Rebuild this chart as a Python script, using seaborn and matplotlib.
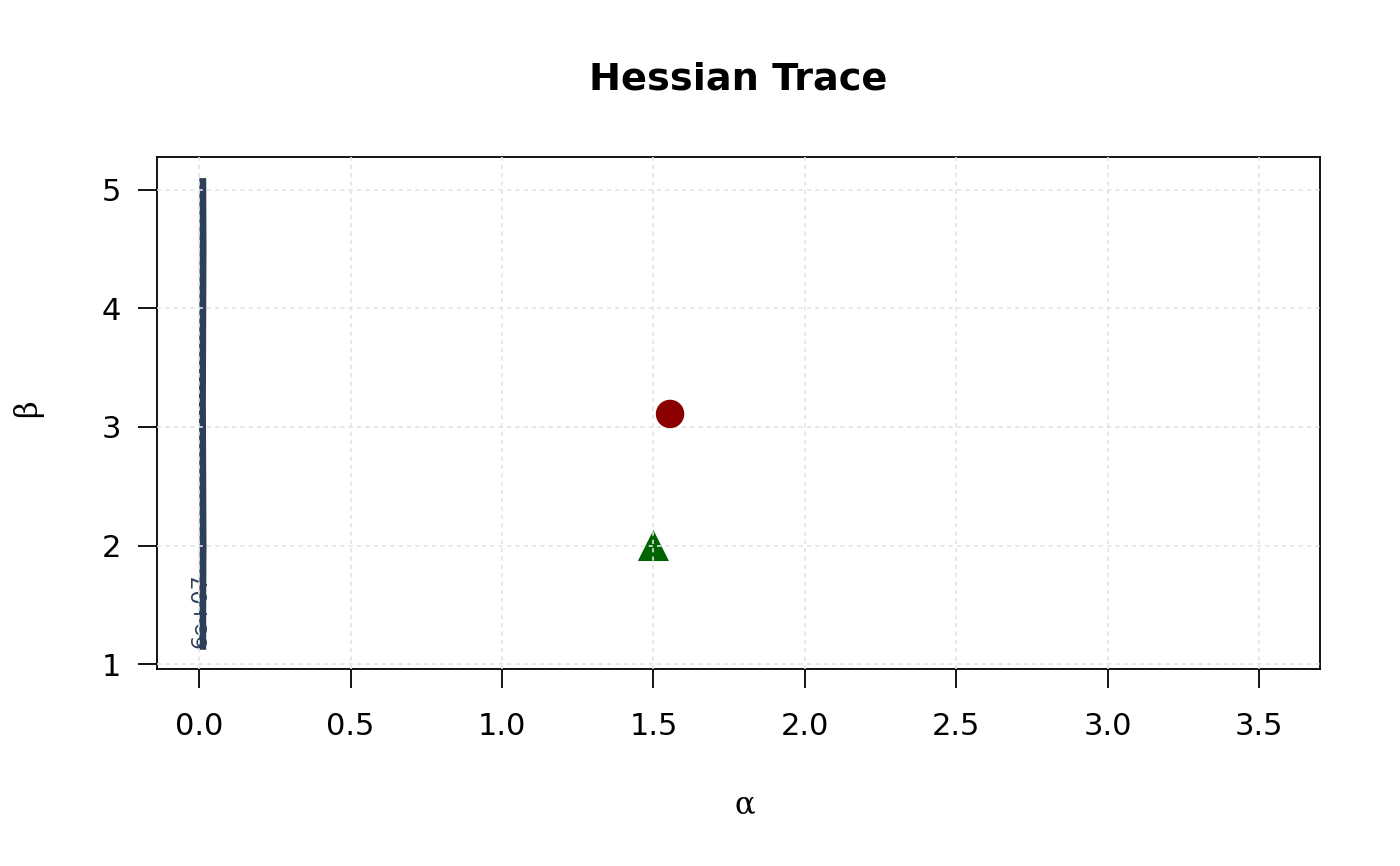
import matplotlib
matplotlib.use("Agg")
import matplotlib.pyplot as plt
import seaborn as sns
import pandas as pd

# ---- data ----
trace_alpha = [0.012, 0.012, 0.013, 0.012, 0.011, 0.012, 0.013, 0.012]
trace_beta = [1.12, 1.5, 2.0, 2.6, 3.2, 3.9, 4.5, 5.10]
final_point = (1.555, 3.11)
true_point = (1.50, 2.00)
trace_label = "6e+07"
label_pos = (0.003, 1.45)
x_ticks = [0.0, 0.5, 1.0, 1.5, 2.0, 2.5, 3.0, 3.5]
y_ticks = [1, 2, 3, 4, 5]

sns.set_style("white")
plt.rcParams['font.family'] = ['DejaVu Sans']

fig = plt.figure(figsize=(14, 8.66), dpi=100)
ax = fig.add_axes([157/1400, 1 - 669/866, (1320-157)/1400, (669-157)/866])

df = pd.DataFrame({"alpha": trace_alpha, "beta": trace_beta})
sns.lineplot(data=df, x="alpha", y="beta", sort=False, estimator=None,
             color="#2E4057", linewidth=5.0, ax=ax, zorder=3)
ax.lines[-1].set_solid_capstyle("butt")

sns.scatterplot(x=[true_point[0]], y=[true_point[1]], marker="^", s=500,
                color="#006400", edgecolor="none", ax=ax, zorder=2)
sns.scatterplot(x=[final_point[0]], y=[final_point[1]], marker="o", s=420,
                color="#8B0000", edgecolor="none", ax=ax, zorder=6)

ax.text(label_pos[0], label_pos[1], trace_label, rotation=90, ha="center",
        va="center", fontsize=16, color="#2E4057", zorder=4)

# grid
for xv in x_ticks:
    ax.axvline(xv, color="#E3E3E3", lw=1.2, ls=(0, (2.5, 2.5)), zorder=5)
for yv in y_ticks:
    ax.axhline(yv, color="#E3E3E3", lw=1.2, ls=(0, (2.5, 2.5)), zorder=5)

ax.set_xlim(-0.139, 3.701)
ax.set_ylim(0.958, 5.278)
ax.set_xticks(x_ticks)
ax.set_xticklabels([f"{v:.1f}" for v in x_ticks])
ax.set_yticks(y_ticks)
ax.set_yticklabels([str(v) for v in y_ticks])
ax.tick_params(axis="both", direction="out", length=14, width=1.3,
               labelsize=22, color="black", labelcolor="black",
               bottom=True, left=True)
ax.tick_params(axis="x", pad=17)
ax.tick_params(axis="y", pad=12)
for sp in ax.spines.values():
    sp.set_visible(True)
    sp.set_color("black")
    sp.set_linewidth(1.3)

ax.set_xlabel("α", family="DejaVu Serif", fontsize=22, color="black")
ax.set_ylabel("β", family="DejaVu Serif", fontsize=22, color="black")
ax.xaxis.set_label_coords((745 - 157) / 1163, (669 - 805) / 512)
ax.yaxis.set_label_coords((28 - 157) / 1163, (669 - 408) / 512)
ax.xaxis.label.set_va("center")
ax.yaxis.label.set_va("center")
fig.suptitle("Hessian Trace", fontsize=27.5, fontweight="bold", color="black",
             x=738/1400, y=1 - 80/866, va="center")

fig.savefig("out.png", dpi=100)
